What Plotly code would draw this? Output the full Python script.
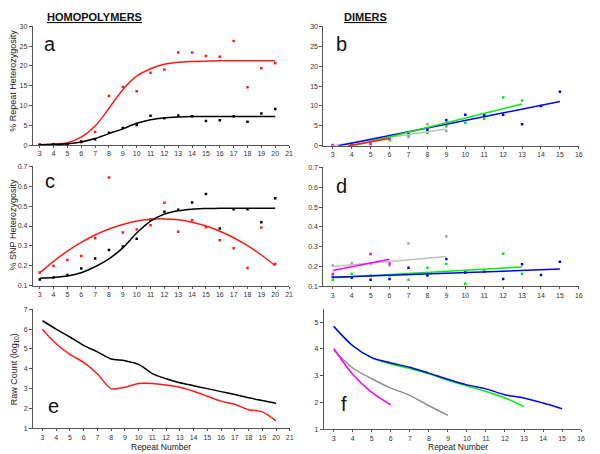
import plotly.graph_objects as go

# ---------------- data ----------------
homo_x = list(range(3, 21))

# panel a: % repeat heterozygosity (points + fitted curves read at integer x)
a_red_pts = [0.1, 0.2, 0.2, 1.0, 3.3, 12.4, 14.7, 13.6, 18.3, 19.1, 23.4, 23.4, 22.5, 22.3, 26.3, 14.6, 19.4, 20.7]
a_blk_pts = [0.1, 0.2, 0.2, 0.8, 1.5, 3.1, 4.3, 5.1, 7.4, 6.8, 7.5, 7.3, 6.1, 6.3, 7.3, 5.9, 8.0, 9.1]
a_red_fit = [0.05, 0.2, 0.6, 2.0, 4.8, 9.3, 14.0, 17.4, 19.3, 20.4, 20.9, 21.1, 21.2, 21.3, 21.3, 21.3, 21.3, 21.3]
a_blk_fit = [0.1, 0.2, 0.35, 0.8, 1.65, 2.9, 4.1, 5.5, 6.4, 6.9, 7.1, 7.2, 7.2, 7.2, 7.2, 7.2, 7.2, 7.2]

# panel c: % SNP heterozygosity
c_red_pts = [0.166, 0.199, 0.229, 0.249, 0.338, 0.644, 0.368, 0.383, 0.404, 0.517, 0.371, 0.429, 0.394, 0.328, 0.288, 0.188, 0.393, 0.209]
c_blk_pts = [0.131, 0.141, 0.153, 0.186, 0.237, 0.279, 0.297, 0.336, 0.432, 0.472, 0.482, 0.518, 0.561, 0.388, 0.485, 0.485, 0.419, 0.540]
c_red_fit = [0.164, 0.222, 0.274, 0.318, 0.355, 0.385, 0.408, 0.425, 0.434, 0.436, 0.431, 0.419, 0.400, 0.374, 0.341, 0.301, 0.254, 0.200]
c_blk_fit = [0.137, 0.141, 0.148, 0.165, 0.195, 0.235, 0.290, 0.365, 0.425, 0.460, 0.477, 0.485, 0.488, 0.490, 0.490, 0.490, 0.490, 0.490]

# panel e: raw count (log10)
e_blk = [6.42, 6.0, 5.6, 5.18, 4.85, 4.49, 4.41, 4.22, 3.76, 3.5, 3.30, 3.15, 3.0, 2.85, 2.70, 2.54, 2.40, 2.26]
e_red = [5.98, 5.26, 4.72, 4.32, 3.74, 3.0, 3.07, 3.26, 3.26, 3.18, 3.07, 2.87, 2.62, 2.37, 2.21, 1.94, 1.83, 1.38]

# dimers
blue_x = list(range(3, 16))
green_x = list(range(3, 14))
gray_x = list(range(3, 10))
mag_x = list(range(3, 7))

# panel b points
b_blue_pts = [0.1, 0.4, 1.2, 2.2, 2.9, 4.0, 6.4, 7.8, 7.8, 7.8, 5.4, 10.0, 13.6]
b_green_x = list(range(4, 14))
b_green_pts = [0.0, 0.5, 1.4, 2.5, 3.3, 4.9, 5.8, 6.8, 12.1, 11.4]
b_gray_pts = [0.1, 0.6, 1.3, 1.9, 2.2, 5.4, 3.7]
b_mag_pts = [0.2, 0.0, 0.4, 1.8]
# panel b fitted lines (end points)
b_blue_line_x, b_blue_line_y = [3.3, 15], [0.0, 11.1]
b_green_line_x, b_green_line_y = [4.1, 13], [0.0, 10.5]
b_gray_line_x, b_gray_line_y = [3, 9], [0.0, 4.2]
b_red_line_x, b_red_line_y = [3.8, 6], [0.0, 1.8]

# panel d points
d_blue_pts = [0.147, 0.143, 0.133, 0.137, 0.193, 0.155, 0.238, 0.170, 0.175, 0.137, 0.211, 0.157, 0.224]
d_green_pts = [0.133, 0.163, 0.155, 0.155, 0.133, 0.193, 0.213, 0.113, 0.178, 0.264, 0.163]
d_gray_pts = [0.205, 0.216, 0.213, 0.205, 0.316, None, 0.352]
d_mag_pts = [0.162, None, 0.263, 0.215]
d_blue_line_x, d_blue_line_y = [3, 15], [0.145, 0.187]
d_green_line_x, d_green_line_y = [3, 13], [0.143, 0.197]
d_gray_line_x, d_gray_line_y = [3, 9], [0.200, 0.250]
d_mag_line_x, d_mag_line_y = [3, 6], [0.180, 0.236]

# panel f: raw count (log10)
f_blue = [4.85, 4.12, 3.68, 3.48, 3.32, 3.10, 2.87, 2.66, 2.51, 2.29, 2.17, 1.98, 1.77]
f_green = [4.83, 4.12, 3.67, 3.44, 3.27, 3.07, 2.83, 2.62, 2.41, 2.17, 1.85]
f_gray = [3.95, 3.29, 2.89, 2.54, 2.27, 1.88, 1.52]
f_mag = [4.02, 3.05, 2.38, 1.91]

RED = "#ff1a1a"
BLK = "#000000"
BLUE = "#0000ff"
GREEN = "#00ee00"
GRAY = "#a0a0a0"
MAG = "#ff00ff"

fig = go.Figure()


def pts(x, y, color, xa, ya):
    fig.add_trace(go.Scatter(x=x, y=y, mode="markers", xaxis=xa, yaxis=ya,
                             marker=dict(symbol="square", size=2.5, color=color),
                             showlegend=False, hoverinfo="skip"))


def line(x, y, color, xa, ya, spline=False, width=1.5):
    fig.add_trace(go.Scatter(x=x, y=y, mode="lines", xaxis=xa, yaxis=ya,
                             line=dict(color=color, width=width,
                                       shape="spline" if spline else "linear", smoothing=0.8),
                             showlegend=False, hoverinfo="skip"))


# panel a
pts(homo_x, a_red_pts, RED, "x", "y")
pts(homo_x, a_blk_pts, BLK, "x", "y")
line(homo_x, a_red_fit, RED, "x", "y", True)
line(homo_x, a_blk_fit, BLK, "x", "y", True)

# panel b
pts(blue_x, b_blue_pts, BLUE, "x2", "y2")
pts(b_green_x, b_green_pts, GREEN, "x2", "y2")
pts(gray_x, b_gray_pts, GRAY, "x2", "y2")
pts(mag_x, b_mag_pts, MAG, "x2", "y2")
line(b_gray_line_x, b_gray_line_y, "#c0c0c0", "x2", "y2")
line(b_blue_line_x, b_blue_line_y, BLUE, "x2", "y2")
line(b_green_line_x, b_green_line_y, GREEN, "x2", "y2")
line(b_red_line_x, b_red_line_y, RED, "x2", "y2")

# panel c
pts(homo_x, c_red_pts, RED, "x3", "y3")
pts(homo_x, c_blk_pts, BLK, "x3", "y3")
line(homo_x, c_red_fit, RED, "x3", "y3", True)
line(homo_x, c_blk_fit, BLK, "x3", "y3", True)

# panel d
pts(blue_x, d_blue_pts, BLUE, "x4", "y4")
pts(green_x, d_green_pts, GREEN, "x4", "y4")
pts(gray_x, d_gray_pts, GRAY, "x4", "y4")
pts(mag_x, d_mag_pts, MAG, "x4", "y4")
line(d_gray_line_x, d_gray_line_y, "#c0c0c0", "x4", "y4")
line(d_mag_line_x, d_mag_line_y, MAG, "x4", "y4")
line(d_green_line_x, d_green_line_y, GREEN, "x4", "y4")
line(d_blue_line_x, d_blue_line_y, BLUE, "x4", "y4")

# panel e
line(homo_x, e_blk, BLK, "x5", "y5", True)
line(homo_x, e_red, RED, "x5", "y5", True)

# panel f
line(gray_x, f_gray, "#909090", "x6", "y6", True)
line(mag_x, f_mag, MAG, "x6", "y6", True)
line(green_x, f_green, GREEN, "x6", "y6", True)
line(blue_x, f_blue, BLUE, "x6", "y6", True)

FONT = "Liberation Sans, Arial, sans-serif"


def xax(domain, rng, anchor):
    return dict(domain=domain, range=rng, tick0=3, dtick=1, anchor=anchor,
                showgrid=False, zeroline=False, showline=True, linecolor="#555", linewidth=1,
                ticks="outside", ticklen=2, tickcolor="#555",
                tickfont=dict(size=7, color="#333", family=FONT))


def yax(domain, rng, tick0, dtick, anchor):
    return dict(domain=domain, range=rng, tick0=tick0, dtick=dtick, anchor=anchor,
                showgrid=False, zeroline=False, showline=True, linecolor="#555", linewidth=1,
                ticks="outside", ticklen=3, tickcolor="#555",
                tickfont=dict(size=7, color="#333", family=FONT))


W, H = 600, 454
LX = [33 / W, 291 / W]
RX = [325.5 / W, 582.7 / W]

fig.update_layout(
    width=W, height=H, margin=dict(l=0, r=0, t=0, b=0),
    paper_bgcolor="white", plot_bgcolor="white", showlegend=False,
    xaxis=xax(LX, [2.5, 21], "y"),
    yaxis=yax([1 - 143.3 / H, 1 - 22.7 / H], [0, 30], 0, 5, "x"),
    xaxis2=xax(RX, [2.5, 16], "y2"),
    yaxis2=yax([1 - 144 / H, 1 - 22.7 / H], [0, 30], 0, 5, "x2"),
    xaxis3=xax(LX, [2.5, 21], "y3"),
    yaxis3=yax([1 - 286 / H, 1 - 165 / H], [0.1, 0.7], 0.1, 0.1, "x3"),
    xaxis4=xax(RX, [2.5, 16], "y4"),
    yaxis4=yax([1 - 286.7 / H, 1 - 166 / H], [0.1, 0.7], 0.1, 0.1, "x4"),
    xaxis5=xax([33.3 / W, 291.7 / W], [2.32, 21], "y5"),
    yaxis5=yax([1 - 431 / H, 1 - 310 / H], [1, 7], 1, 1, "x5"),
    xaxis6=xax([326 / W, 585 / W], [2.48, 16], "y6"),
    yaxis6=yax([1 - 432 / H, 1 - 309.6 / H], [1, 5.5], 1, 1, "x6"),
)


def ann(text, x, y, size, angle=0, color="#222", xanchor="center", yanchor="middle"):
    fig.add_annotation(text=text, x=x / W, y=1 - y / H, xref="paper", yref="paper",
                       showarrow=False, textangle=angle, xanchor=xanchor, yanchor=yanchor,
                       font=dict(size=size, color=color, family=FONT))


ann("<b><u>HOMOPOLYMERS</u></b>", 95, 13, 11, color="#111")
ann("<b><u>DIMERS</u></b>", 368, 13, 11, color="#111")

for letter, x, y in [("a", 50, 41), ("b", 344, 41), ("c", 50, 180), ("d", 344, 185),
                     ("e", 54, 408), ("f", 346, 406)]:
    ann(letter, x, y, 20, color="#111")

ann("% Repeat Heterozygosity", 13, 78, 9, angle=-90)
ann("% SNP Heterozygosity", 13, 224, 9, angle=-90)
ann("Raw Count (log<sub>10</sub>)", 14, 371, 9, angle=-90)
ann("Repeat Number", 162, 449.5, 8.5)
ann("Repeat Number", 461, 449.5, 8.5)

fig.write_html("out.html", config={"displayModeBar": False},
               post_script="document.body.style.margin='0';document.body.style.overflow='hidden';")
